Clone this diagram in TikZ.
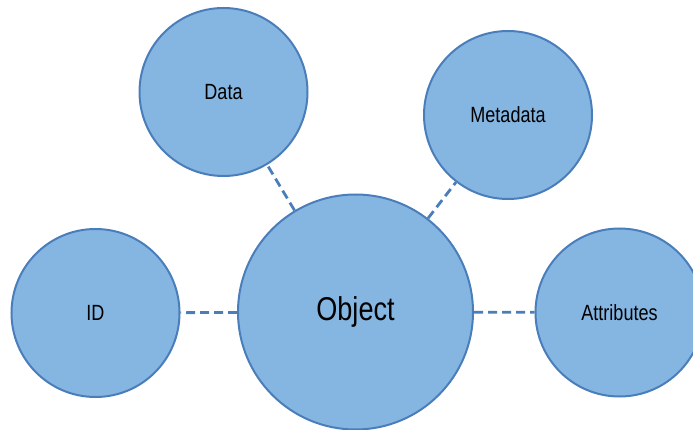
\documentclass[tikz,border=0pt]{standalone}
\usepackage{fontspec}
\newfontfamily\narrowfont[FakeStretch=0.82]{Liberation Sans}
\definecolor{bubblefill}{RGB}{133,181,225}
\definecolor{bubbleline}{RGB}{74,126,187}

\tikzset{%
  every bubble/.style={
    circle,
    draw=bubbleline,
    fill=bubblefill,
    line width=2pt,
    inner sep=0pt,
    minimum size=168pt,
    font=\narrowfont\fontsize{22}{26}\selectfont
  },
  bubble main/.style={
    minimum size=235pt,
    font=\narrowfont\fontsize{33}{38}\selectfont
  },
  link/.style={
    draw=bubbleline,
    line width=2.8pt,
    dash pattern=on 9pt off 5pt
  },
}

\begin{document}
\begin{tikzpicture}[x=1pt, y=-1pt]

    \useasboundingbox (0,0) rectangle (693,430);

    \node [every bubble/.try, bubble main/.try] (object) at (355.5,312) {Object};

    \foreach \m/\p/\l in {data/{223.5,92}/Data, metadata/{508,115}/Metadata,
                          id/{95.5,313}/ID, attributes/{619.5,312.5}/Attributes}
      \node [every bubble/.try, bubble \m/.try] (\m) at (\p) {\l};

    \foreach \m in {data, metadata, id, attributes}
      \draw [link] (object) -- (\m);

\end{tikzpicture}
\end{document}
